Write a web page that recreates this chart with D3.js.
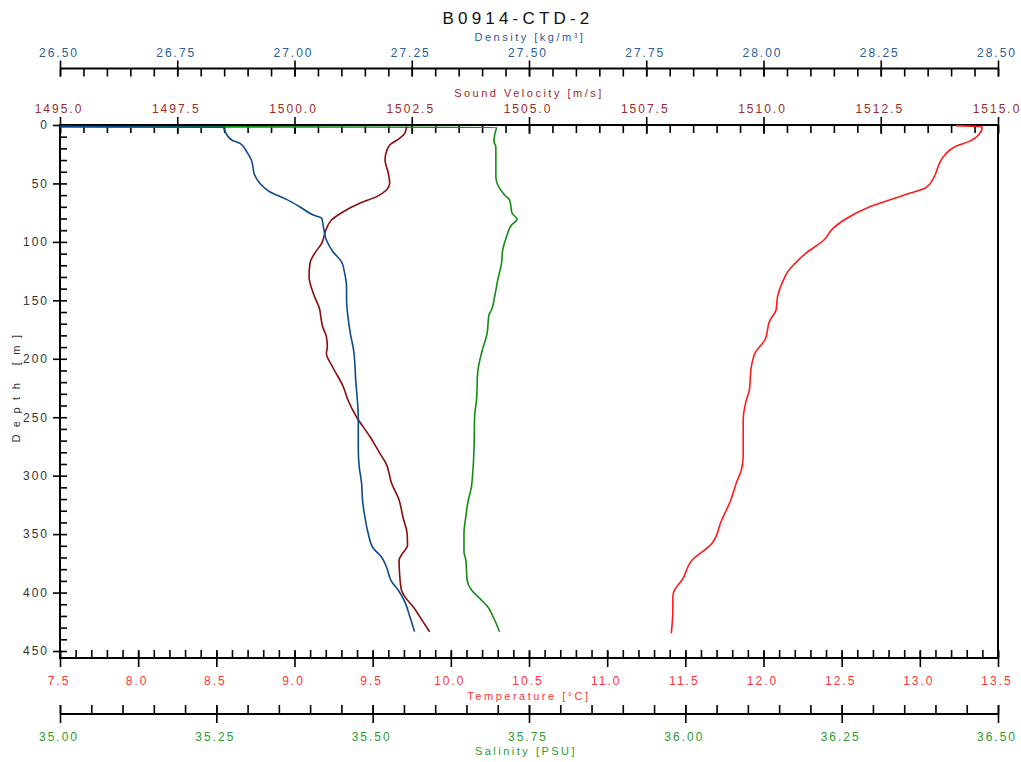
<!DOCTYPE html>
<html><head><meta charset="utf-8">
<script src="https://cdn.jsdelivr.net/npm/d3@7"></script>
<style>
body{margin:0;background:#fff}
svg{display:block}
text{font-family:"Liberation Sans",Arial,sans-serif}
</style>
</head><body>
<svg id="c" width="1021" height="762"></svg>
<script>
// ---- tick labels ----
const depthTicks = [0,50,100,150,200,250,300,350,400,450];
const densityTicks = [26.50,26.75,27.00,27.25,27.50,27.75,28.00,28.25,28.50];
const soundTicks = [1495.0,1497.5,1500.0,1502.5,1505.0,1507.5,1510.0,1512.5,1515.0];
const tempTicks = [7.5,8.0,8.5,9.0,9.5,10.0,10.5,11.0,11.5,12.0,12.5,13.0,13.5];
const salTicks = [35.00,35.25,35.50,35.75,36.00,36.25,36.50];

// ---- series ----
const tempDepth = [0.6,1.5,7.9,13.8,18.2,25.6,31.5,44.8,53.6,59.5,64.0,69.9,81.7,89.1,98.0,109.8,117.2,124.6,134.9,146.7,158.5,167.4,183.7,194.0,208.8,226.5,235.4,253.1,282.7,294.5,304.8,321.1,338.8,358.0,363.9,371.3,389.1,397.9,403.8,415.7,434.9];
const tempValue = [13.23,13.40,13.38,13.32,13.23,13.16,13.13,13.09,13.04,12.91,12.81,12.68,12.51,12.44,12.39,12.27,12.21,12.16,12.12,12.09,12.08,12.04,12.01,11.95,11.92,11.91,11.89,11.87,11.87,11.86,11.83,11.79,11.73,11.67,11.62,11.55,11.48,11.43,11.42,11.42,11.41];

const svDepth = [1.4,7.1,11.4,17.1,24.2,29.9,41.3,49.9,55.6,61.3,67.0,74.2,81.3,89.8,101.2,109.8,118.3,129.8,144.0,158.3,164.0,172.6,181.1,189.7,195.3,206.8,223.9,235.3,249.6,266.7,280.9,289.4,306.5,320.8,335.1,349.3,359.3,367.9,372.1,383.5,397.8,403.5,412.1,424.9,433.5];
const svValue = [1502.39,1502.35,1502.24,1502.03,1501.95,1501.93,1502.00,1502.03,1501.96,1501.75,1501.39,1501.04,1500.79,1500.67,1500.58,1500.43,1500.33,1500.31,1500.40,1500.54,1500.56,1500.60,1500.68,1500.70,1500.68,1500.81,1501.04,1501.14,1501.32,1501.61,1501.82,1501.95,1502.07,1502.23,1502.31,1502.40,1502.41,1502.28,1502.23,1502.24,1502.28,1502.35,1502.53,1502.74,1502.88];

const denDepth = [1.4,1.9,5.7,12.8,15.7,22.8,29.9,42.8,49.9,57.1,63.6,69.9,77.0,79.8,85.6,98.4,108.4,116.9,126.9,138.3,149.7,164.0,178.2,192.5,221.0,235.3,249.5,278.0,292.3,306.5,320.8,335.1,349.3,362.1,369.3,377.9,390.7,397.8,407.8,420.7,433.5];
const denValue = [26.50,26.848,26.852,26.866,26.884,26.898,26.908,26.915,26.926,26.947,26.983,27.011,27.040,27.058,27.061,27.068,27.082,27.100,27.107,27.111,27.111,27.114,27.119,27.126,27.131,27.134,27.136,27.136,27.138,27.143,27.145,27.150,27.157,27.168,27.185,27.196,27.207,27.221,27.235,27.246,27.256];

const salDepth = [1.4,2.0,8.6,14.3,18.6,44.2,51.3,59.9,64.2,75.5,80.7,85.6,95.6,106.9,118.3,132.6,146.9,158.3,162.5,178.2,195.3,211.1,235.3,249.5,278.0,298.0,309.4,323.6,335.1,349.3,365.0,372.1,389.3,397.8,404.9,412.1,423.5,433.5];
const salValue = [35.00,35.698,35.695,35.694,35.697,35.697,35.700,35.711,35.719,35.723,35.731,35.722,35.714,35.708,35.706,35.700,35.695,35.690,35.686,35.683,35.674,35.668,35.666,35.663,35.662,35.660,35.658,35.652,35.649,35.646,35.646,35.649,35.651,35.658,35.671,35.684,35.695,35.703];

// ---- layout ----
const L = 60, R = 998, T = 125, B = 658;
const svg = d3.select("#c");

const y = d3.scaleLinear([0,450],[T,651]);
const xDen = d3.scaleLinear([26.5,28.5],[L,R]);
const xSV = d3.scaleLinear([1495,1515],[L,R]);
const xT = d3.scaleLinear([7.5,13.5],[L,R]);
const xS = d3.scaleLinear([35,36.5],[L,R]);

function minorVals(scale, step){
  const [a,b] = scale.domain(); const n = Math.round((b-a)/step);
  return d3.range(n+1).map(i => +(a + i*step).toFixed(6));
}

function styleAxis(g, color){
  g.select(".domain").remove();
  g.selectAll(".tick line").attr("stroke","#000").attr("stroke-width",1.6);
  g.selectAll(".tick text").attr("fill",color).attr("font-size",12).attr("dx","-1.5")
    .attr("letter-spacing","2px").attr("font-family","'Liberation Sans',Arial,sans-serif");
}

function hAxis(scale, yPos, majors, fmt, color, side, majorOut, majorIn, minorIn, pad, step){
  const outer = side === "top" ? d3.axisTop(scale) : d3.axisBottom(scale);
  const inner = side === "top" ? d3.axisBottom(scale) : d3.axisTop(scale);
  const gMin = svg.append("g").attr("transform",`translate(0,${yPos})`)
    .call(inner.tickValues(minorVals(scale,step)).tickSize(minorIn).tickFormat(""));
  styleAxis(gMin, color);
  const gMajIn = svg.append("g").attr("transform",`translate(0,${yPos})`)
    .call((side === "top" ? d3.axisBottom(scale) : d3.axisTop(scale)).tickValues(majors).tickSize(majorIn).tickFormat(""));
  styleAxis(gMajIn, color);
  const gMaj = svg.append("g").attr("transform",`translate(0,${yPos})`)
    .call(outer.tickValues(majors).tickSize(majorOut).tickPadding(pad).tickFormat(d3.format(fmt)));
  styleAxis(gMaj, color);
  svg.append("line").attr("x1",scale.range()[0]).attr("x2",scale.range()[1])
    .attr("y1",yPos).attr("y2",yPos).attr("stroke","#000").attr("stroke-width",2);
}

const cDen = "#2b5c9b", cSV = "#9b2a2a", cT = "#ff3535", cS = "#2e9a2e";

hAxis(xDen, 68.5, densityTicks, ".2f", cDen, "top", 8, 8, 8, 3.5, 0.05);
hAxis(xSV, T, soundTicks, ".1f", cSV, "top", 8, 9, 8, 4.3, 0.5);
hAxis(xT, B, tempTicks, ".1f", cT, "bottom", 9, 7, 8, 9.5, 0.1);
hAxis(xS, 714, salTicks, ".2f", cS, "bottom", 9, 9, 9, 9.3, 0.05);

// left depth axis
const gYmin = svg.append("g").attr("transform",`translate(${L},0)`)
  .call(d3.axisRight(y).tickValues(d3.range(0,451,10)).tickSize(7).tickFormat(""));
styleAxis(gYmin,"#333");
const gY = svg.append("g").attr("transform",`translate(${L},0)`)
  .call(d3.axisLeft(y).tickValues(depthTicks).tickSize(7).tickPadding(4).tickFormat(d3.format("d")));
styleAxis(gY,"#333");
gY.selectAll(".tick text").attr("dx","0");
svg.append("line").attr("x1",L).attr("x2",L).attr("y1",T-1).attr("y2",B+1).attr("stroke","#000").attr("stroke-width",2);
svg.append("line").attr("x1",R).attr("x2",R).attr("y1",T-1).attr("y2",B+1).attr("stroke","#000").attr("stroke-width",2);

// titles
function label(x, yy, txt, color, size, ls, rot){
  const t = svg.append("text").attr("x",x).attr("y",yy).attr("text-anchor","middle")
    .attr("fill",color).attr("font-size",size).attr("letter-spacing",ls+"px").text(txt);
  if (rot) t.attr("transform",`rotate(-90,${x},${yy})`);
  return t;
}
label(518, 24, "B0914-CTD-2", "#111", 17, 4.2);
label(530, 40.5, "Density [kg/m³]", cDen, 11, 2.5);
label(529, 97.3, "Sound Velocity [m/s]", cSV, 11, 2.5);
label(529, 700, "Temperature [°C]", cT, 11, 2.5);
label(526, 755, "Salinity [PSU]", cS, 11, 2.5);
label(20, 385, "Depth [m]", "#333", 11, 7.5, true);

// lines
svg.append("clipPath").attr("id","plotclip").append("rect")
  .attr("x",L).attr("y",T).attr("width",R-L).attr("height",B-T);
const plot = svg.append("g").attr("clip-path","url(#plotclip)");

function series(depths, values, xs, color){
  const pts = depths.map((d,i)=>({d, v: values[i]}));
  const line = d3.line().x(p=>xs(p.v)).y(p=>y(p.d)).curve(d3.curveMonotoneY);
  plot.append("path").datum(pts).attr("d",line).attr("fill","none")
    .attr("stroke",color).attr("stroke-width",1.6).attr("stroke-linejoin","round");
}
series(tempDepth, tempValue, xT, "#ff1a1a");
series(salDepth, salValue, xS, "#138c13");
series(svDepth, svValue, xSV, "#8b0b0b");
series(denDepth, denValue, xDen, "#0d4a8c");
</script>
</body></html>
